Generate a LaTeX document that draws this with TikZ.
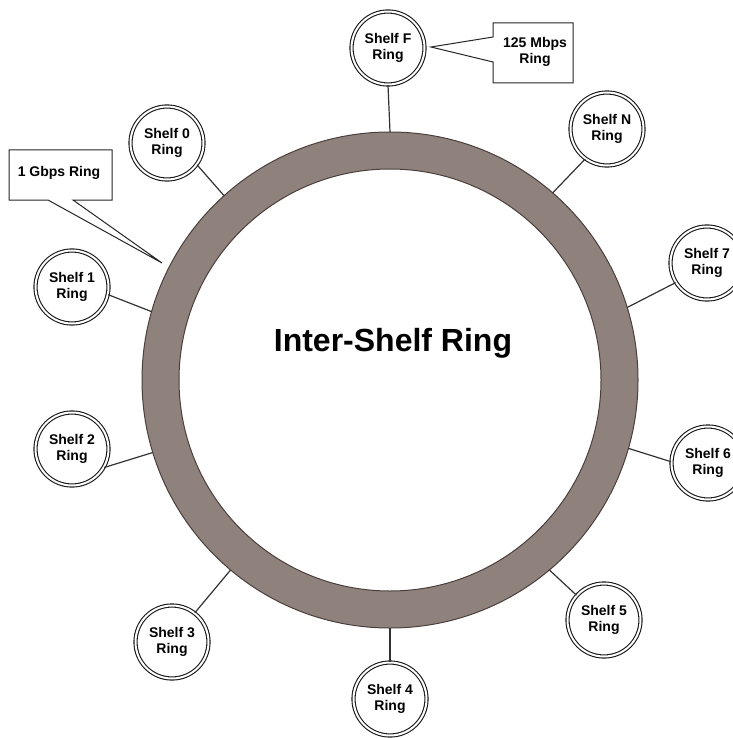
\documentclass[tikz,border=0pt]{standalone}
\usepackage{fontspec}
\setmainfont{Liberation Sans}
\usetikzlibrary{calc}
\definecolor{ringfill}{RGB}{143,130,125}
\definecolor{ringedge}{RGB}{75,63,60}
\definecolor{linec}{RGB}{50,50,50}
\begin{document}
\begin{tikzpicture}[x=1pt,y=1pt,
  shelf/.style={circle, draw=black!90, double=white, double distance=2pt, line width=1.1pt,
    minimum size=73pt, inner sep=0pt, font=\fontsize{14}{16}\selectfont\bfseries, align=center},
  conn/.style={draw=linec, line width=1.2pt},
  callout/.style={draw=black!85, line width=1pt, fill=white, line join=miter},
  lbl/.style={font=\fontsize{14}{16}\selectfont\bfseries, align=center, inner sep=0pt}]
\useasboundingbox (0,0) rectangle (732,-738);
\coordinate (C) at (390,-380);
% ring
\fill[ringfill, even odd rule] (C) circle (248) (C) circle (211);
\draw[ringedge, line width=1pt] (C) circle (248) (C) circle (211);
\node[font=\fontsize{32}{38}\selectfont\bfseries] (title) at (393,-343) {Inter-Shelf Ring};
% shelves
\node[shelf] (sF) at (388,-48) {Shelf F\\Ring};
\node[shelf] (sN) at (607,-129) {Shelf N\\Ring};
\node[shelf] (s7) at (707,-263) {Shelf 7\\Ring};
\node[shelf] (s6) at (708,-463) {Shelf 6\\Ring};
\node[shelf] (s5) at (604,-620) {Shelf 5\\Ring};
\node[shelf] (s4) at (390,-699) {Shelf 4\\Ring};
\node[shelf] (s3) at (172,-642) {Shelf 3\\Ring};
\node[shelf] (s2) at (72,-449) {Shelf 2\\Ring};
\node[shelf] (s1) at (72,-287) {Shelf 1\\Ring};
\node[shelf] (s0) at (167,-143) {Shelf 0\\Ring};
% ring attachment points
\coordinate (rF) at ($(C)+(90:248)$);
\coordinate (rN) at ($(C)+(49:248)$);
\coordinate (r7) at ($(C)+(17:248)$);
\coordinate (r6) at ($(C)+(-16:248)$);
\coordinate (r5) at ($(C)+(-50:248)$);
\coordinate (r4) at ($(C)+(-90:248)$);
\coordinate (r3) at ($(C)+(-130:248)$);
\coordinate (r2) at ($(C)+(-163:248)$);
\coordinate (r1) at ($(C)+(164:248)$);
\coordinate (r0) at ($(C)+(132:248)$);
\draw[conn] (sF.south) -- (rF);
\draw[conn] (sN.234) -- (rN);
\draw[conn] (s7.212) -- (r7);
\draw[conn] (s6.178) -- (r6);
\draw[conn] (s5.138) -- (r5);
\draw[conn] (s4.north) -- (r4);
\draw[conn] (s3.52) -- (r3);
\draw[conn] (s2.-30) -- (r2);
\draw[conn] (s1.-12) -- (r1);
\draw[conn] (s0.-36) -- (r0);
% callouts
\coordinate (tipA) at (431,-47);
\draw[callout] (493,-37) -- (493,-23) -- (573,-23) -- (573,-83) -- (493,-83) -- (493,-62) -- (tipA) -- cycle;
\node[lbl] (cA) at (535,-52) {125 Mbps\\Ring};
\coordinate (tipB) at (162,-263);
\draw[callout] (48,-200) -- (9,-200) -- (9,-150) -- (112,-150) -- (112,-200) -- (73,-200) -- (tipB) -- cycle;
\node[lbl] (cB) at (59,-173) {1 Gbps Ring};
\end{tikzpicture}
\end{document}
